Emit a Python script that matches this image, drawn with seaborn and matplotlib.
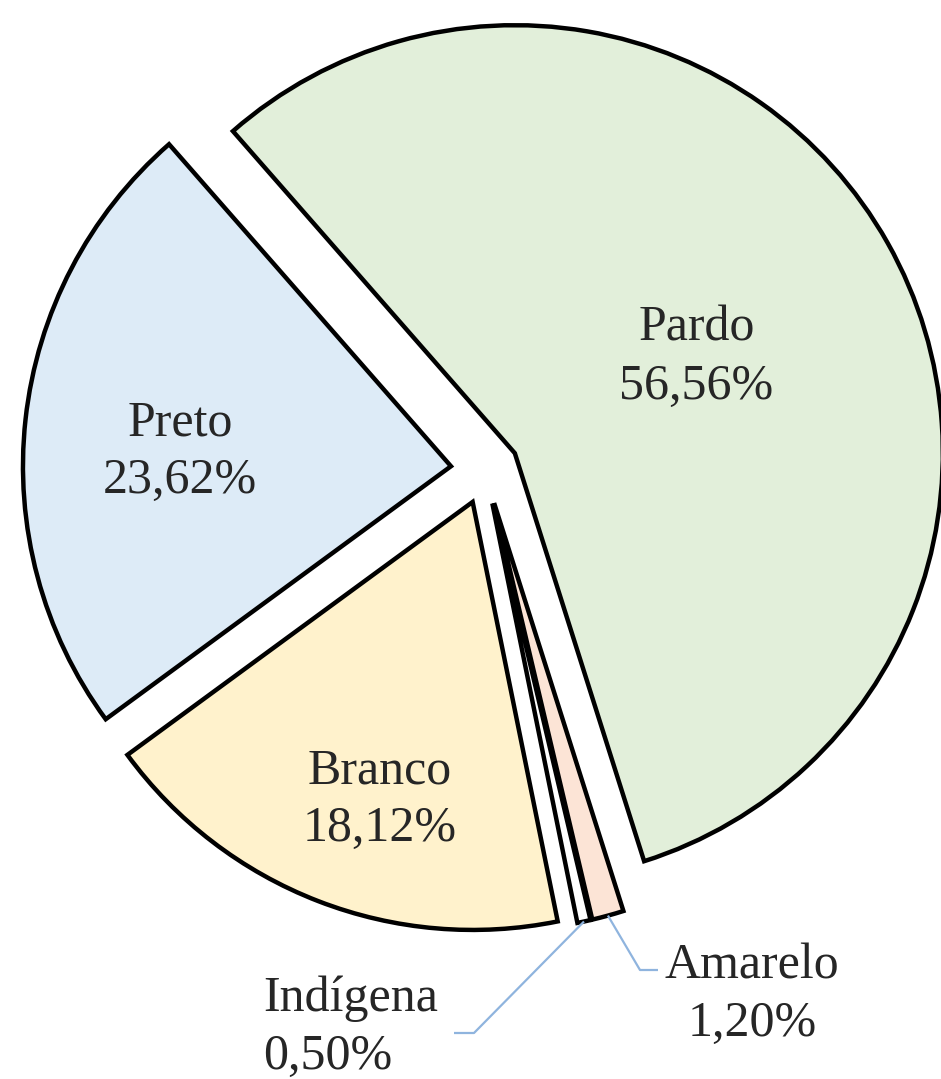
import numpy as np
import matplotlib
matplotlib.use("Agg")
import matplotlib.pyplot as plt
import seaborn as sns

# data
categorias = ["Pardo", "Amarelo", "Indígena", "Branco", "Preto"]
valores = [56.56, 1.20, 0.50, 18.12, 23.62]
rotulos = ["56,56%", "1,20%", "0,50%", "18,12%", "23,62%"]
cores = ["#E2EFDA", "#FCE4D6", "#FFFFFF", "#FFF2CC", "#DDEBF7"]

sns.set_theme(style="white")
plt.rcParams['font.family'] = ['Liberation Serif', 'DejaVu Serif']

W, H = 941, 1079
fig = plt.figure(figsize=(W / 100, H / 100), dpi=100, facecolor='white')
ax = fig.add_axes([0, 0, 1, 1])

raio = 428
centro = (485, 609)
# matplotlib's explode is in data units, so scale by the radius
wedges, _ = ax.pie(valores, colors=cores, startangle=131.2, counterclock=False,
                   explode=[0.08 * raio] * len(valores), radius=raio, center=centro,
                   wedgeprops=dict(edgecolor='black', linewidth=3.2))
ax.set_xlim(0, W)
ax.set_ylim(0, H)
ax.set_aspect('equal')
ax.axis('off')

txt_kw = dict(fontsize=36, color='#262626', linespacing=1.32)

# labels inside the big slices: (distance from apex / radius, angle offset in deg)
pos_dentro = {"Pardo": (0.48, -1.6), "Preto": (0.634, 3.3), "Branco": (0.73, 3.8)}
for w, cat, rot in zip(wedges, categorias, rotulos):
    if cat not in pos_dentro:
        continue
    dist, dang = pos_dentro[cat]
    ang = np.deg2rad((w.theta1 + w.theta2) / 2 + dang)
    cx, cy = w.center
    d = dist * raio
    ax.text(cx + d * np.cos(ang), cy + d * np.sin(ang), cat + "\n" + rot,
            ha='center', va='center', **txt_kw)

# small slices: labels outside with leader lines
fora = {
    "Indígena": dict(cotovelo=(474, 46), fim=(454, 46), texto=(263, 51), ha='left'),
    "Amarelo": dict(cotovelo=(640, 109), fim=(658, 109), texto=(752, 84), ha='center'),
}
for w, cat, rot in zip(wedges, categorias, rotulos):
    if cat not in fora:
        continue
    o = fora[cat]
    ang = np.deg2rad((w.theta1 + w.theta2) / 2)
    cx, cy = w.center
    px, py = cx + raio * np.cos(ang), cy + raio * np.sin(ang)
    ax.plot([px, o['cotovelo'][0], o['fim'][0]], [py, o['cotovelo'][1], o['fim'][1]],
            color='#8FB4DE', linewidth=1.6, solid_capstyle='butt')
    ax.text(o['texto'][0], o['texto'][1], cat + "\n" + rot,
            ha=o['ha'], va='center', multialignment='left' if o['ha'] == 'left' else 'center',
            **txt_kw)

fig.savefig("out.png", dpi=100, facecolor='white')
